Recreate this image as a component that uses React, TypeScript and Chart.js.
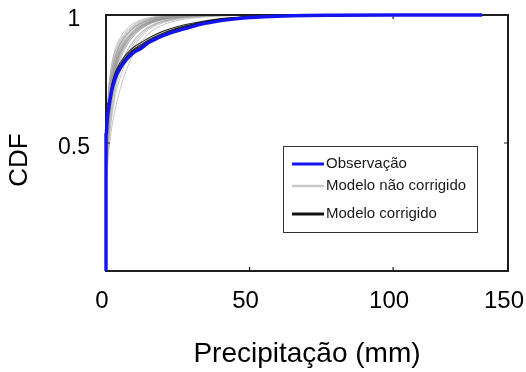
import React, { useEffect, useRef } from 'react';
import { Chart, registerables } from 'chart.js';

Chart.register(...registerables);

// ---- tick labels ----
const xTickValues = [0, 50, 100, 140];
const xTickLabels = ['0', '50', '100', '150'];
const yTickValues = [0, 0.5, 1];
const yTickLabels = ['', '0.5', '1'];
const xInnerTicks = [50, 100];
const yInnerTicks = [0.5];
const yTitle = 'CDF';
const xTitle = 'Precipitação (mm)';

// ---- legend ----
const legendLabels = ['Observação', 'Modelo não corrigido', 'Modelo corrigido'];
const legendColors = ['#1414f0', '#c8c8c8', '#111111'];

// ---- observed CDF ----
const obsX = [0, 0, 0.5, 1, 2, 3, 4, 6, 8, 10, 12, 15, 18, 22, 26, 30, 35, 40, 46, 55, 65, 80, 100, 131];
const obsY = [0, 0.53, 0.6, 0.64, 0.705, 0.745, 0.773, 0.81, 0.837, 0.856, 0.868, 0.893, 0.91, 0.928, 0.942, 0.955, 0.968, 0.978, 0.986, 0.993, 0.997, 0.999, 1, 1];

// ---- model precipitation grid ----
const modelX = [0, 1, 2, 3, 4, 6, 8, 10, 13, 16, 20, 25, 30, 40, 50];

// uncorrected model runs
const g01 = [0.56, 0.73, 0.81, 0.86, 0.89, 0.93, 0.955, 0.97, 0.984, 0.992, 0.997, 1, 1, 1, 1];
const g02 = [0.52, 0.71, 0.8, 0.85, 0.88, 0.92, 0.947, 0.964, 0.98, 0.989, 0.995, 0.999, 1, 1, 1];
const g03 = [0.48, 0.69, 0.78, 0.835, 0.87, 0.914, 0.942, 0.96, 0.977, 0.987, 0.994, 0.998, 1, 1, 1];
const g04 = [0.55, 0.7, 0.78, 0.83, 0.865, 0.908, 0.936, 0.955, 0.973, 0.985, 0.993, 0.998, 1, 1, 1];
const g05 = [0.45, 0.66, 0.76, 0.82, 0.86, 0.904, 0.933, 0.953, 0.972, 0.984, 0.992, 0.997, 0.999, 1, 1];
const g06 = [0.5, 0.66, 0.75, 0.805, 0.845, 0.893, 0.924, 0.946, 0.967, 0.98, 0.99, 0.996, 0.999, 1, 1];
const g07 = [0.42, 0.62, 0.73, 0.795, 0.84, 0.888, 0.92, 0.943, 0.965, 0.978, 0.988, 0.995, 0.998, 1, 1];
const g08 = [0.53, 0.67, 0.74, 0.79, 0.83, 0.878, 0.912, 0.936, 0.96, 0.975, 0.986, 0.994, 0.998, 1, 1];
const g09 = [0.46, 0.64, 0.74, 0.8, 0.84, 0.886, 0.918, 0.941, 0.963, 0.977, 0.987, 0.995, 0.998, 1, 1];
const g10 = [0.4, 0.6, 0.71, 0.78, 0.825, 0.878, 0.913, 0.938, 0.961, 0.976, 0.987, 0.994, 0.998, 1, 1];
const g11 = [0.57, 0.68, 0.75, 0.795, 0.83, 0.873, 0.906, 0.93, 0.955, 0.971, 0.983, 0.992, 0.997, 1, 1];
const g12 = [0.44, 0.61, 0.71, 0.775, 0.82, 0.873, 0.908, 0.933, 0.958, 0.973, 0.985, 0.993, 0.997, 1, 1];
const g13 = [0.49, 0.65, 0.745, 0.805, 0.848, 0.898, 0.93, 0.951, 0.97, 0.982, 0.991, 0.997, 0.999, 1, 1];
const g14 = [0.38, 0.58, 0.69, 0.765, 0.815, 0.87, 0.906, 0.932, 0.958, 0.974, 0.986, 0.994, 0.998, 1, 1];
const g15 = [0.54, 0.64, 0.71, 0.765, 0.805, 0.858, 0.896, 0.923, 0.951, 0.969, 0.982, 0.991, 0.996, 0.999, 1];
const g16 = [0.47, 0.63, 0.72, 0.785, 0.83, 0.883, 0.916, 0.939, 0.962, 0.977, 0.988, 0.995, 0.998, 1, 1];
const g17 = [0.41, 0.57, 0.67, 0.74, 0.79, 0.853, 0.893, 0.922, 0.951, 0.969, 0.982, 0.991, 0.996, 0.999, 1];
const g18 = [0.51, 0.68, 0.77, 0.825, 0.862, 0.906, 0.935, 0.955, 0.973, 0.984, 0.992, 0.997, 0.999, 1, 1];
const g19 = [0.43, 0.59, 0.69, 0.76, 0.81, 0.865, 0.902, 0.928, 0.955, 0.972, 0.985, 0.993, 0.997, 1, 1];
const g20 = [0.39, 0.54, 0.64, 0.71, 0.76, 0.828, 0.873, 0.906, 0.94, 0.961, 0.977, 0.988, 0.994, 0.999, 1];
const g21 = [0.35, 0.5, 0.6, 0.67, 0.72, 0.79, 0.843, 0.882, 0.925, 0.951, 0.97, 0.984, 0.991, 0.997, 1];
const g22 = [0.33, 0.47, 0.56, 0.62, 0.67, 0.75, 0.81, 0.857, 0.906, 0.938, 0.962, 0.979, 0.988, 0.996, 0.999];
const g23 = [0.37, 0.52, 0.62, 0.69, 0.745, 0.808, 0.857, 0.893, 0.932, 0.956, 0.974, 0.987, 0.993, 0.998, 1];
const g24 = [0.45, 0.58, 0.66, 0.72, 0.765, 0.828, 0.87, 0.902, 0.937, 0.959, 0.976, 0.988, 0.994, 0.999, 1];
const uncorrectedRuns = [g01, g02, g03, g04, g05, g06, g07, g08, g09, g10, g11, g12, g13, g14, g15, g16, g17, g18, g19, g20, g21, g22, g23, g24];

// corrected model runs
const b1 = [0.6, 0.655, 0.72, 0.76, 0.787, 0.823, 0.85, 0.869, 0.89, 0.91, 0.93, 0.95, 0.964, 0.984, 0.994];
const b2 = [0.57, 0.65, 0.715, 0.755, 0.783, 0.82, 0.846, 0.865, 0.886, 0.906, 0.927, 0.947, 0.962, 0.983, 0.993];
const b3 = [0.64, 0.665, 0.728, 0.768, 0.795, 0.832, 0.858, 0.877, 0.898, 0.917, 0.937, 0.955, 0.968, 0.986, 0.995];
const b4 = [0.55, 0.648, 0.712, 0.752, 0.78, 0.817, 0.843, 0.862, 0.883, 0.903, 0.924, 0.945, 0.96, 0.982, 0.993];
const correctedRuns = [b1, b2, b3, b4];

const FONT = "'Liberation Sans', Arial, sans-serif";

const toPts = (xs: number[], ys: number[]) => ys.map((y, i) => ({ x: xs[i], y }));

const framePlugin = {
  id: 'frameTicks',
  beforeDatasetDraw(chart: any, args: any) {
    if (args.index !== 0) return;
    const { ctx, chartArea: a, scales } = chart;
    ctx.save();
    ctx.strokeStyle = '#1e1e1e';
    ctx.lineWidth = 2;
    ctx.strokeRect(a.left, a.top, a.right - a.left, a.bottom - a.top);
    ctx.lineWidth = 1.2;
    ctx.beginPath();
    for (const v of xInnerTicks) {
      const px = scales.x.getPixelForValue(v);
      ctx.moveTo(px, a.bottom); ctx.lineTo(px, a.bottom - 4);
      ctx.moveTo(px, a.top); ctx.lineTo(px, a.top + 4);
    }
    for (const v of yInnerTicks) {
      const py = scales.y.getPixelForValue(v);
      ctx.moveTo(a.left, py); ctx.lineTo(a.left + 4, py);
      ctx.moveTo(a.right, py); ctx.lineTo(a.right - 4, py);
    }
    ctx.stroke();
    ctx.restore();
  },
};

const yTitlePlugin = {
  id: 'yTitleText',
  afterDraw(chart: any) {
    const { ctx, chartArea: a } = chart;
    ctx.save();
    ctx.translate(20, (a.top + a.bottom) / 2 + 17);
    ctx.rotate(-Math.PI / 2);
    ctx.fillStyle = '#000';
    ctx.font = `26px ${FONT}`;
    ctx.textAlign = 'center';
    ctx.textBaseline = 'middle';
    ctx.fillText(yTitle, 0, 0);
    ctx.restore();
  },
};

const legendPlugin = {
  id: 'boxLegend',
  afterDraw(chart: any) {
    const { ctx, chartArea: a } = chart;
    const left = a.left + 177;
    const top = a.top + 131;
    const w = 194;
    const h = 86;
    ctx.save();
    ctx.fillStyle = '#ffffff';
    ctx.fillRect(left, top, w, h);
    ctx.strokeStyle = '#333333';
    ctx.lineWidth = 1;
    ctx.strokeRect(left + 0.5, top + 0.5, w, h);
    const rows = [18, 40, 68];
    const widths = [3, 2.5, 3];
    legendLabels.forEach((label, i) => {
      const y = top + rows[i];
      ctx.strokeStyle = legendColors[i];
      ctx.lineWidth = widths[i];
      ctx.beginPath();
      ctx.moveTo(left + 9, y);
      ctx.lineTo(left + 41, y);
      ctx.stroke();
      ctx.fillStyle = '#1a1a1a';
      ctx.font = `15px ${FONT}`;
      ctx.textAlign = 'left';
      ctx.textBaseline = 'middle';
      ctx.fillText(label, left + 43, y);
    });
    ctx.restore();
  },
};

export default function App() {
  const ref = useRef<HTMLCanvasElement>(null);

  useEffect(() => {
    const canvas = ref.current;
    if (!canvas) return;

    const datasets: any[] = [];
    datasets.push({
      label: legendLabels[0],
      data: toPts(obsX, obsY),
      borderColor: legendColors[0],
      borderWidth: 3.4,
      cubicInterpolationMode: 'monotone',
      pointRadius: 0,
      clip: 4,
    });
    correctedRuns.forEach((run) => {
      datasets.push({
        label: legendLabels[2],
        data: toPts(modelX, run),
        borderColor: 'rgba(10,10,10,0.85)',
        borderWidth: 1.1,
        cubicInterpolationMode: 'monotone',
        pointRadius: 0,
        clip: 4,
      });
    });
    uncorrectedRuns.forEach((run) => {
      datasets.push({
        label: legendLabels[1],
        data: toPts(modelX, run),
        borderColor: 'rgba(150,150,150,0.55)',
        borderWidth: 1,
        cubicInterpolationMode: 'monotone',
        pointRadius: 0,
        clip: 4,
      });
    });

    const chart = new Chart(canvas, {
      type: 'line',
      data: { datasets },
      options: {
        responsive: false,
        animation: false,
        devicePixelRatio: 1,
        layout: { padding: { left: 0, right: 18, top: 15, bottom: 0 } },
        plugins: { legend: { display: false }, tooltip: { enabled: false } },
        elements: { point: { radius: 0 } },
        scales: {
          x: {
            type: 'linear',
            min: 0,
            max: 140,
            grid: { display: false, drawTicks: false },
            border: { display: false },
            afterBuildTicks: (s: any) => {
              s.ticks = xTickValues.map((v) => ({ value: v }));
            },
            afterFit: (s: any) => {
              s.height = 101;
              s.paddingLeft = 0;
              s.paddingRight = 0;
            },
            ticks: {
              autoSkip: false,
              maxRotation: 0,
              minRotation: 0,
              padding: 16,
              labelOffset: -4,
              color: '#000',
              font: { family: FONT, size: 24 },
              callback: (v: any) => {
                const i = xTickValues.indexOf(Number(v));
                return i >= 0 ? xTickLabels[i] : '';
              },
            },
            title: {
              display: true,
              text: xTitle,
              color: '#000',
              font: { family: FONT, size: 28 },
              padding: { top: 0, bottom: 1 },
            },
          },
          y: {
            type: 'linear',
            min: 0,
            max: 1,
            grid: { display: false, drawTicks: false },
            border: { display: false },
            afterBuildTicks: (s: any) => {
              s.ticks = yTickValues.map((v) => ({ value: v }));
            },
            afterFit: (s: any) => {
              s.width = 106;
              s.paddingTop = 0;
              s.paddingBottom = 0;
            },
            ticks: {
              autoSkip: false,
              padding: 16,
              labelOffset: 5,
              crossAlign: 'center',
              color: '#000',
              font: { family: FONT, size: 23 },
              callback: (v: any) => {
                const i = yTickValues.indexOf(Number(v));
                return i >= 0 ? yTickLabels[i] : '';
              },
            },
            title: { display: false, text: yTitle },
          },
        },
      },
      plugins: [framePlugin, yTitlePlugin, legendPlugin],
    } as any);

    return () => chart.destroy();
  }, []);

  return (
    <div style={{ position: 'fixed', left: 0, top: 0, width: 526, height: 372, background: '#fff' }}>
      <canvas ref={ref} width={526} height={372} style={{ display: 'block', width: 526, height: 372 }} />
    </div>
  );
}
